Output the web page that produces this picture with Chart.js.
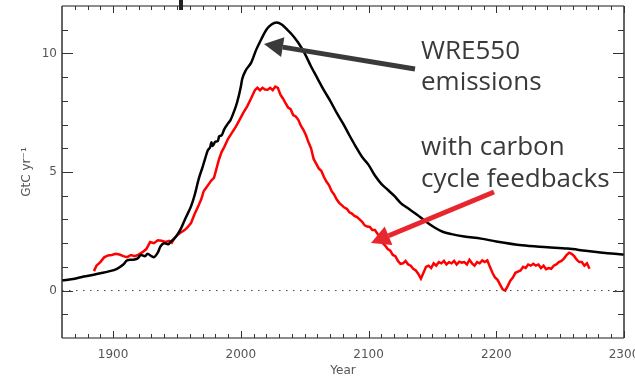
<!DOCTYPE html>
<html>
<head>
<meta charset="utf-8">
<script src="https://cdn.jsdelivr.net/npm/chart.js@4.4.1/dist/chart.umd.min.js"></script>
<style>
  html, body { margin: 0; padding: 0; background: #fff; }
  #grafico { display: block; }
</style>
</head>
<body>
<canvas id="grafico" width="635" height="379"></canvas>
<script>
// Emisiones WRE550 (negro) y con retroalimentacion del ciclo del carbono (rojo), GtC/año
var aniosWre = [1860, 1870, 1877, 1884, 1890, 1896, 1903, 1908, 1911, 1915, 1919, 1922, 1925, 1927, 1930, 1932, 1935, 1937,
  1940, 1943, 1945, 1948, 1950, 1953, 1956, 1958, 1961, 1964, 1967, 1970, 1972, 1974, 1976, 1977, 1978, 1980,
  1982, 1983, 1985, 1987, 1990, 1992, 1995, 1997, 2000, 2001, 2004, 2008, 2012, 2016, 2020, 2024, 2028, 2032,
  2036, 2040, 2045, 2050, 2055, 2060, 2065, 2070, 2075, 2080, 2085, 2090, 2095, 2100, 2105, 2110, 2115, 2120,
  2125, 2130, 2138, 2145, 2152, 2158, 2165, 2175, 2188, 2200, 2220, 2240, 2256, 2270, 2280, 2290, 2300];
var valoresWre = [0.42, 0.5, 0.59, 0.66, 0.73, 0.8, 0.92, 1.1, 1.27, 1.3, 1.35, 1.5, 1.45, 1.55, 1.45, 1.41, 1.6, 1.85,
  2.0, 1.95, 2.05, 2.2, 2.33, 2.6, 2.97, 3.2, 3.55, 4.05, 4.7, 5.2, 5.55, 5.9, 6.05, 6.25, 6.1, 6.28,
  6.3, 6.5, 6.55, 6.8, 7.05, 7.2, 7.6, 7.92, 8.6, 8.9, 9.3, 9.6, 10.15, 10.6, 11.0, 11.22, 11.3, 11.22,
  11.02, 10.8, 10.45, 10.0, 9.45, 8.95, 8.45, 8.0, 7.5, 7.05, 6.55, 6.07, 5.63, 5.3, 4.85, 4.5, 4.25, 4.0,
  3.7, 3.5, 3.2, 2.9, 2.65, 2.48, 2.38, 2.28, 2.19, 2.07, 1.91, 1.83, 1.77, 1.68, 1.62, 1.56, 1.52];

var aniosCiclo = [1885, 1887, 1890, 1893, 1896, 1899, 1902, 1905, 1908, 1911, 1914, 1917, 1920, 1923, 1926, 1929,
  1932, 1935, 1938, 1941, 1944, 1946, 1948, 1950, 1953, 1956, 1958, 1961, 1964, 1967, 1969, 1971, 1973, 1975,
  1977, 1979, 1981, 1983, 1985, 1987, 1990, 1993, 1996, 1999, 2002, 2005, 2008, 2011, 2013, 2015, 2017, 2019,
  2021, 2023, 2025, 2027, 2029, 2031, 2033, 2035, 2037, 2039, 2041, 2043, 2045, 2047, 2049, 2051, 2053, 2055,
  2057, 2059, 2061, 2063, 2065, 2067, 2069, 2071, 2073, 2075, 2077, 2079, 2081, 2083, 2085, 2087, 2089, 2091,
  2093, 2095, 2097, 2099, 2101, 2103, 2105, 2107, 2109, 2111, 2113, 2115, 2117, 2119, 2121, 2123, 2125, 2127,
  2129, 2131, 2133, 2135, 2137, 2139, 2141, 2143, 2145, 2147, 2149, 2151, 2153, 2155, 2157, 2159, 2161, 2163,
  2165, 2167, 2169, 2171, 2173, 2175, 2177, 2179, 2181, 2183, 2185, 2187, 2189, 2191, 2193, 2195, 2197, 2199,
  2201, 2203, 2205, 2207, 2209, 2211, 2213, 2215, 2217, 2219, 2221, 2223, 2225, 2227, 2229, 2231, 2233, 2235,
  2237, 2239, 2241, 2243, 2245, 2247, 2249, 2251, 2253, 2255, 2257, 2259, 2261, 2263, 2265, 2267, 2269, 2271, 2273];
var valoresCiclo = [0.82, 1.05, 1.2, 1.4, 1.48, 1.5, 1.55, 1.52, 1.45, 1.41, 1.5, 1.45, 1.52, 1.62, 1.75, 2.05,
  2.0, 2.12, 2.1, 2.05, 2.1, 2.02, 2.2, 2.33, 2.45, 2.55, 2.65, 2.85, 3.25, 3.6, 3.85, 4.2, 4.35, 4.5,
  4.65, 4.75, 5.15, 5.55, 5.85, 6.05, 6.4, 6.65, 6.9, 7.2, 7.5, 7.77, 8.1, 8.45, 8.55, 8.45, 8.55, 8.48,
  8.47, 8.55, 8.45, 8.6, 8.55, 8.26, 8.1, 7.9, 7.72, 7.65, 7.4, 7.34, 7.2, 6.95, 6.78, 6.55, 6.25, 6.0,
  5.55, 5.35, 5.15, 5.05, 4.8, 4.6, 4.45, 4.2, 4.05, 3.85, 3.7, 3.6, 3.5, 3.45, 3.3, 3.25, 3.15, 3.1,
  3.0, 2.9, 2.75, 2.7, 2.68, 2.55, 2.55, 2.4, 2.26, 2.0, 1.9, 1.75, 1.68, 1.5, 1.45, 1.25, 1.13, 1.15,
  1.25, 1.1, 1.05, 0.92, 0.85, 0.7, 0.5, 0.75, 1.0, 1.05, 0.95, 1.15, 1.05, 1.2, 1.15, 1.25, 1.1, 1.2,
  1.15, 1.25, 1.1, 1.22, 1.18, 1.2, 1.1, 1.3, 1.15, 1.05, 1.2, 1.15, 1.27, 1.2, 1.27, 1.0, 0.75, 0.55,
  0.45, 0.25, 0.05, 0.0, 0.2, 0.42, 0.55, 0.75, 0.8, 0.85, 1.0, 0.95, 1.1, 1.05, 1.13, 1.05, 1.1, 0.95,
  1.05, 0.9, 0.95, 0.92, 1.05, 1.1, 1.2, 1.25, 1.35, 1.5, 1.6, 1.55, 1.45, 1.3, 1.2, 1.2, 1.05, 1.15, 0.92];

var ticksX = [1900, 2000, 2100, 2200, 2300];
var ticksY = [0, 5, 10];
var rangoX = [1860, 2300];
var rangoY = [-2, 12];

function puntos(xs, ys) {
    var out = [];
    xs.forEach(function (x, i) { out.push({ x: x, y: ys[i] }); });
    return out;
}

// Flecha gruesa con punta triangular
function flecha(ctx, x0, y0, x1, y1, color, ancho, largo, media) {
    var ang = Math.atan2(y1 - y0, x1 - x0);
    var bx = x1 - largo * Math.cos(ang), by = y1 - largo * Math.sin(ang);
    ctx.save();
    ctx.strokeStyle = color;
    ctx.fillStyle = color;
    ctx.lineWidth = ancho;
    ctx.beginPath();
    ctx.moveTo(x0, y0);
    ctx.lineTo(bx, by);
    ctx.stroke();
    ctx.beginPath();
    ctx.moveTo(x1, y1);
    ctx.lineTo(bx + media * Math.sin(ang), by - media * Math.cos(ang));
    ctx.lineTo(bx - media * Math.sin(ang), by + media * Math.cos(ang));
    ctx.closePath();
    ctx.fill();
    ctx.restore();
}

// Marco estilo IDL: ejes en los cuatro lados con marcas mayores y menores
var marco = {
    id: 'marco',
    afterDatasetsDraw: function (chart) {
        var ctx = chart.ctx, a = chart.chartArea;
        var sx = chart.scales.x, sy = chart.scales.y;
        ctx.save();
        ctx.lineCap = 'butt';
        // lados superior e inferior
        ctx.strokeStyle = '#8c8c8c';
        ctx.lineWidth = 2;
        ctx.beginPath();
        ctx.moveTo(a.left, a.top); ctx.lineTo(a.right, a.top);
        ctx.moveTo(a.left, a.bottom); ctx.lineTo(a.right, a.bottom);
        ctx.stroke();
        // lados izquierdo y derecho
        ctx.strokeStyle = '#333';
        ctx.lineWidth = 1.5;
        ctx.beginPath();
        ctx.moveTo(a.left, a.top); ctx.lineTo(a.left, a.bottom);
        ctx.moveTo(a.right, a.top); ctx.lineTo(a.right, a.bottom);
        ctx.stroke();
        ctx.lineWidth = 1;
        ctx.strokeStyle = '#333';
        ctx.beginPath();
        for (var yr = 1870; yr <= 2300; yr += 10) {
            var px = Math.round(sx.getPixelForValue(yr)) + 0.5;
            var l = (yr % 100 === 0) ? 7 : 4;
            ctx.moveTo(px, a.bottom); ctx.lineTo(px, a.bottom - l);
            ctx.moveTo(px, a.top); ctx.lineTo(px, a.top + l);
        }
        for (var v = -1; v <= 11; v++) {
            var py = Math.round(sy.getPixelForValue(v)) + 0.5;
            var m = (v % 5 === 0) ? 11 : 6;
            ctx.moveTo(a.left, py); ctx.lineTo(a.left + m, py);
            ctx.moveTo(a.right, py); ctx.lineTo(a.right - m, py);
        }
        ctx.stroke();

        // titulos de los ejes
        ctx.fillStyle = '#555';
        ctx.font = '12px "DejaVu Sans"';
        ctx.textAlign = 'center';
        ctx.textBaseline = 'middle';
        ctx.fillText('Year', (a.left + a.right) / 2, 371);
        ctx.save();
        ctx.translate(27, (a.top + a.bottom) / 2);
        ctx.rotate(-Math.PI / 2);
        ctx.fillText('GtC yr\u207B\u00B9', 0, 0);
        ctx.restore();

        // resto de una flecha cortada en el borde superior
        ctx.fillStyle = '#222';
        ctx.fillRect(179, 0, 4, 10);

        // anotaciones
        flecha(ctx, 415, 69, 264, 44, '#3a3a3c', 5, 19, 10);
        flecha(ctx, 494, 192, 371, 243, '#e8262e', 5, 19, 10);
        ctx.font = '26px "Open Sans"';
        ctx.textAlign = 'left';
        ctx.textBaseline = 'alphabetic';
        ctx.fillStyle = '#3a3a3a';
        ctx.fillText('WRE550', 421, 59);
        ctx.fillText('emissions', 421, 90);
        ctx.fillText('with carbon', 421, 155);
        ctx.fillText('cycle feedbacks', 421, 187);
        ctx.restore();
    }
};

function etiqueta(v) { return String(v); }

new Chart(document.getElementById('grafico'), {
    type: 'line',
    data: {
        datasets: [{
            label: 'cero',
            data: puntos(rangoX, [0, 0]),
            borderColor: '#444',
            borderWidth: 1,
            borderDash: [1.5, 5.5],
            pointRadius: 0
        }, {
            label: 'WRE550',
            data: puntos(aniosWre, valoresWre),
            borderColor: '#000',
            borderWidth: 2.5,
            pointRadius: 0,
            cubicInterpolationMode: 'monotone'
        }, {
            label: 'con ciclo del carbono',
            data: puntos(aniosCiclo, valoresCiclo),
            borderColor: '#ff0000',
            borderWidth: 2.5,
            pointRadius: 0,
            tension: 0
        }]
    },
    options: {
        responsive: false,
        animation: false,
        layout: { padding: { top: 6, right: 11, left: 0, bottom: 0 } },
        plugins: { legend: { display: false }, tooltip: { enabled: false } },
        scales: {
            x: {
                type: 'linear',
                min: rangoX[0],
                max: rangoX[1],
                grid: { display: false, drawTicks: false },
                border: { display: false },
                ticks: { color: '#555', font: { family: 'DejaVu Sans', size: 12 }, padding: 10, maxRotation: 0, autoSkip: false, callback: etiqueta },
                afterBuildTicks: function (s) { s.ticks = ticksX.map(function (v) { return { value: v }; }); },
                afterFit: function (s) { s.height = 41; s.paddingLeft = 0; s.paddingRight = 0; }
            },
            y: {
                min: rangoY[0],
                max: rangoY[1],
                grid: { display: false, drawTicks: false },
                border: { display: false },
                ticks: { color: '#555', font: { family: 'DejaVu Sans', size: 12 }, padding: 5, callback: etiqueta },
                afterBuildTicks: function (s) { s.ticks = ticksY.map(function (v) { return { value: v }; }); },
                afterFit: function (s) { s.width = 62; s.paddingTop = 0; s.paddingBottom = 0; }
            }
        }
    },
    plugins: [marco]
});
</script>
</body>
</html>
